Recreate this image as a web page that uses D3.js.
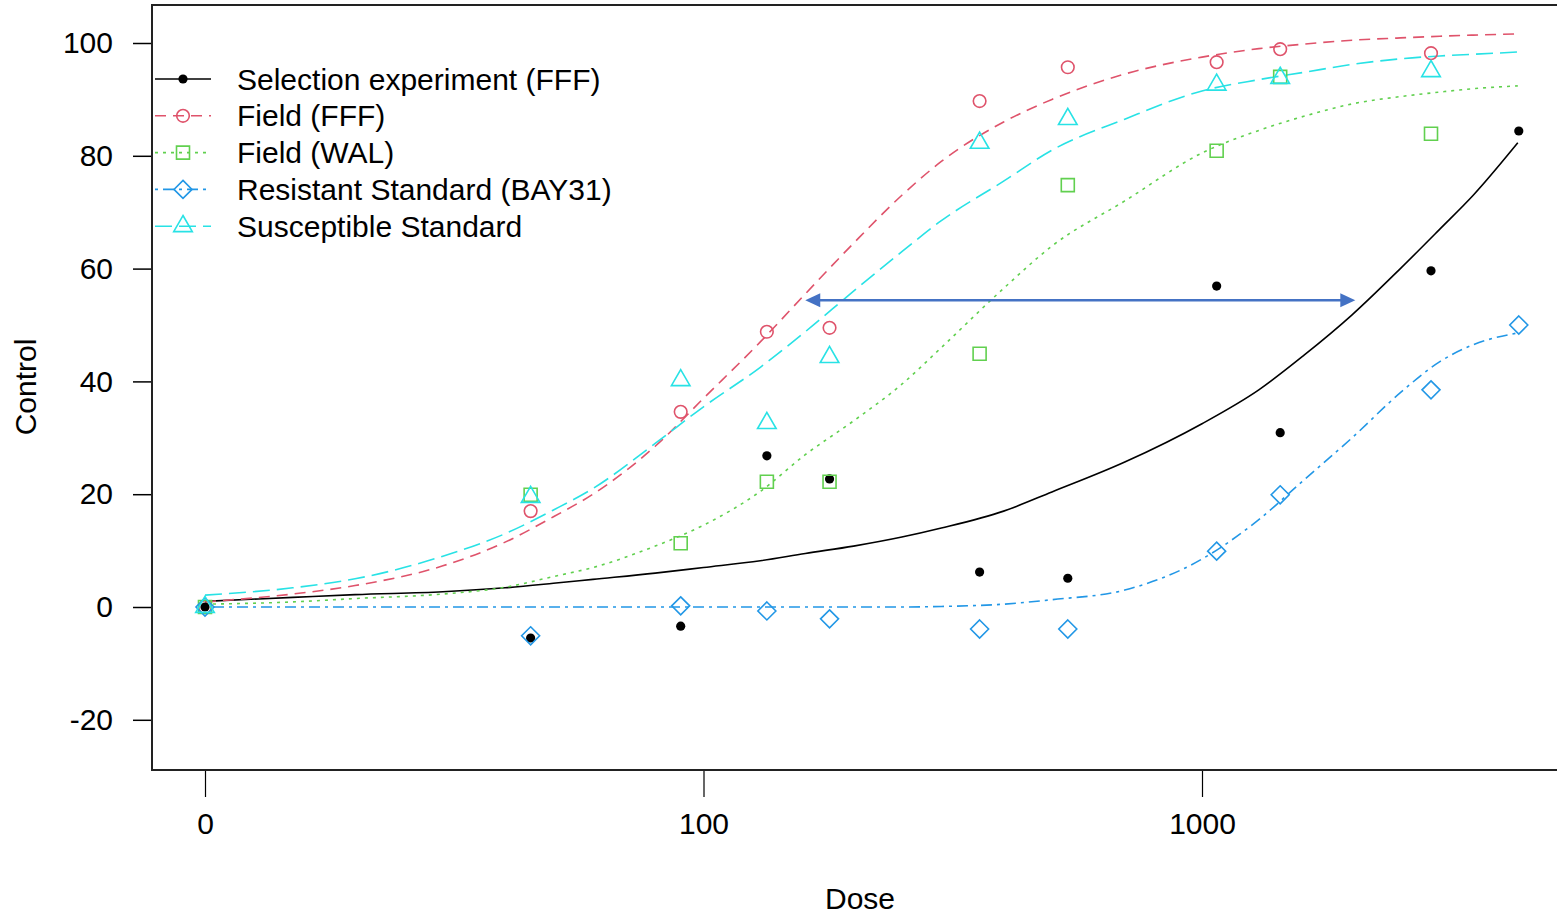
<!DOCTYPE html>
<html>
<head>
<meta charset="utf-8">
<script src="https://cdn.jsdelivr.net/npm/d3@7"></script>
<style>
  body { margin: 0; background: #fff; }
  svg { display: block; font-family: "Liberation Sans", Arial, sans-serif; }
</style>
</head>
<body>
<div id="chart"></div>
<script>
"use strict";

// observed doses; the control (0) is drawn at the 10 position, drc style
var doses = [10, 45, 90, 134, 179, 358, 538, 1070, 1435, 2880, 4320];
var selectionObs = [0, -5.5, -3.4, 26.8, 22.7, 6.2, 5.1, 56.9, 30.9, 59.6, 84.4];
var fieldFFFObs = [0, 17.0, 34.6, 48.8, 49.5, 89.7, 95.7, 96.6, 98.9, 98.2, null];
var fieldWALObs = [0, 19.9, 11.3, 22.2, 22.2, 44.9, 74.8, 80.9, 94.0, 83.9, null];
var resistantObs = [0, -5.1, 0.2, -0.7, -2.1, -3.9, -3.9, 9.9, 19.9, 38.5, 50.0];
var susceptibleObs = [0, 19.5, 40.2, 32.6, 44.3, 82.3, 86.5, 92.6, 93.8, 95.0, null];

// fitted curves
var fitDoses = [10, 15, 20, 30, 40, 50, 60, 80, 100, 130, 160, 200, 250, 300, 400, 500, 700, 1000, 1300, 1600, 2000, 2500, 3000, 3500, 4300];
var selectionFit = [1.0, 1.7, 2.2, 2.7, 3.4, 4.2, 4.9, 6.0, 7.0, 8.2, 9.5, 10.8, 12.4, 14.0, 17.0, 20.4, 25.7, 32.5, 38.5, 44.6, 51.8, 60.0, 67.0, 73.0, 82.3];
var fieldFFFFit = [0.9, 2.3, 3.8, 7.3, 11.5, 16.0, 20.0, 28.5, 37.0, 47.0, 55.5, 64.5, 73.0, 79.0, 86.0, 90.0, 94.5, 97.5, 99.0, 99.8, 100.5, 100.9, 101.2, 101.4, 101.6];
var fieldWALFit = [0.5, 0.9, 1.5, 2.3, 3.5, 5.4, 7.0, 10.8, 14.5, 20.5, 27.0, 33.0, 39.5, 46.0, 56.5, 64.0, 72.0, 80.5, 84.5, 87.0, 89.2, 90.5, 91.3, 91.9, 92.4];
var resistantFit = [0, 0, 0, 0, 0, 0, 0, 0, 0, 0, 0, 0, 0, 0.1, 0.5, 1.3, 3.0, 8.5, 15.5, 22.5, 30.0, 38.0, 43.5, 46.5, 48.6];
var susceptibleFit = [2.1, 3.4, 5.0, 9.0, 13.0, 17.2, 21.0, 29.0, 35.5, 42.5, 48.8, 56.0, 63.0, 68.5, 75.5, 81.0, 86.5, 91.5, 93.5, 94.8, 96.2, 97.2, 97.7, 98.0, 98.4];

var seriesNames = ["Selection experiment (FFF)", "Field (FFF)", "Field (WAL)", "Resistant Standard (BAY31)", "Susceptible Standard"];

var xTickValues = [10, 100, 1000];
var xTickLabels = ["0", "100", "1000"];
var yTickValues = [-20, 0, 20, 40, 60, 80, 100];

// the blue arrow annotation (dose from, dose to, level)
var arrowFrom = 160, arrowTo = 2030, arrowLevel = 54.4;

var width = 1557, height = 914;
var box = {left: 152, top: 5, right: 1568, bottom: 770};
var fontSize = 30;

var series = [
  {name: seriesNames[0], color: "#000000", dash: null, shape: "dot", obs: selectionObs, fit: selectionFit},
  {name: seriesNames[1], color: "#DF536B", dash: "11,7", shape: "circle", obs: fieldFFFObs, fit: fieldFFFFit},
  {name: seriesNames[2], color: "#61D04F", dash: "3,5", shape: "square", obs: fieldWALObs, fit: fieldWALFit},
  {name: seriesNames[3], color: "#2297E6", dash: "3,5,11,5", shape: "diamond", obs: resistantObs, fit: resistantFit},
  {name: seriesNames[4], color: "#28E2E5", dash: "17,7", shape: "triangle", obs: susceptibleObs, fit: susceptibleFit}
];

var x = d3.scaleLog().domain([10, 1000]).range([205, 1202]);
var y = d3.scaleLinear().domain([0, 100]).range([607, 43]);

var svg = d3.select("#chart").append("svg")
  .attr("width", width)
  .attr("height", height);

svg.append("rect")
  .attr("width", width)
  .attr("height", height)
  .attr("fill", "#fff");

function markerPath(shape) {
  if (shape === "dot") return "M-4.6,0a4.6,4.6 0 1,0 9.2,0a4.6,4.6 0 1,0 -9.2,0Z";
  if (shape === "circle") return "M-6.3,0a6.3,6.3 0 1,0 12.6,0a6.3,6.3 0 1,0 -12.6,0Z";
  if (shape === "square") return "M-6.5,-6.5H6.5V6.5H-6.5Z";
  if (shape === "diamond") return "M0,-9L9,0L0,9L-9,0Z";
  return "M0,-10.7L9.3,5.4L-9.3,5.4Z";
}

function drawMarker(g, s, px, py) {
  g.append("path")
    .attr("d", markerPath(s.shape))
    .attr("transform", `translate(${px},${py})`)
    .attr("fill", s.shape === "dot" ? s.color : "none")
    .attr("stroke", s.color)
    .attr("stroke-width", s.shape === "dot" ? 0 : 1.6);
}

// axes
var yAxis = d3.axisLeft(y)
  .tickValues(yTickValues)
  .tickSize(19)
  .tickPadding(20)
  .tickFormat(d => String(d));

svg.append("g")
  .attr("transform", `translate(${box.left},0)`)
  .call(yAxis)
  .call(g => g.select(".domain").remove())
  .call(g => g.selectAll("line").attr("stroke", "#000").attr("stroke-width", 1.5))
  .call(g => g.selectAll("text").attr("font-size", fontSize).attr("fill", "#000").attr("font-family", null));

var xAxis = d3.axisBottom(x)
  .tickValues(xTickValues)
  .tickSize(27)
  .tickPadding(16)
  .tickFormat((d, i) => xTickLabels[i]);

svg.append("g")
  .attr("transform", `translate(0,${box.bottom})`)
  .call(xAxis)
  .call(g => g.select(".domain").remove())
  .call(g => g.selectAll("line").attr("stroke", "#000").attr("stroke-width", 1.2))
  .call(g => g.selectAll("text").attr("font-size", fontSize).attr("fill", "#000").attr("font-family", null));

svg.append("text")
  .attr("x", (box.left + box.right) / 2)
  .attr("y", 898)
  .attr("text-anchor", "middle")
  .attr("dominant-baseline", "central")
  .attr("font-size", fontSize)
  .text("Dose");

svg.append("text")
  .attr("transform", "translate(25,387) rotate(-90)")
  .attr("text-anchor", "middle")
  .attr("dominant-baseline", "central")
  .attr("font-size", fontSize)
  .text("Control");

// fitted curves
var line = d3.line()
  .x(d => x(d[0]))
  .y(d => y(d[1]))
  .curve(d3.curveMonotoneX);

series.forEach(function(s) {
  svg.append("path")
    .attr("d", line(fitDoses.map((d, i) => [d, s.fit[i]])))
    .attr("fill", "none")
    .attr("stroke", s.color)
    .attr("stroke-width", 1.6)
    .attr("stroke-dasharray", s.dash);
});

// observations
series.forEach(function(s) {
  var g = svg.append("g");
  doses.forEach(function(d, i) {
    if (s.obs[i] === null) return;
    drawMarker(g, s, x(d), y(s.obs[i]));
  });
});

// arrow
var arrowColor = "#4472C4";
var ax0 = x(arrowFrom), ax1 = x(arrowTo), ay = y(arrowLevel);
svg.append("line")
  .attr("x1", ax0 + 12).attr("x2", ax1 - 12)
  .attr("y1", ay).attr("y2", ay)
  .attr("stroke", arrowColor)
  .attr("stroke-width", 2.6);
svg.append("path")
  .attr("d", `M${ax0},${ay}l15,-7v14Z`)
  .attr("fill", arrowColor);
svg.append("path")
  .attr("d", `M${ax1},${ay}l-15,-7v14Z`)
  .attr("fill", arrowColor);

// legend
var legend = svg.append("g");
series.forEach(function(s, i) {
  var ly = 79 + i * 36.8;
  legend.append("line")
    .attr("x1", 155).attr("x2", 211)
    .attr("y1", ly).attr("y2", ly)
    .attr("stroke", s.color)
    .attr("stroke-width", 1.6)
    .attr("stroke-dasharray", s.dash);
  drawMarker(legend, s, 183, ly);
  legend.append("text")
    .attr("x", 237)
    .attr("y", ly)
    .attr("dominant-baseline", "central")
    .attr("font-size", fontSize)
    .text(s.name);
});

// plot frame, right side runs off the picture
svg.append("rect")
  .attr("x", box.left)
  .attr("y", box.top)
  .attr("width", box.right - box.left)
  .attr("height", box.bottom - box.top)
  .attr("fill", "none")
  .attr("stroke", "#222")
  .attr("stroke-width", 2);
</script>
</body>
</html>
